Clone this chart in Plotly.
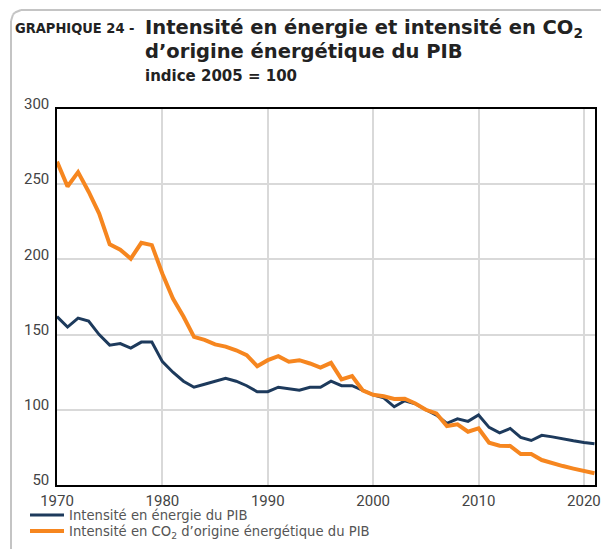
import plotly.graph_objects as go

years = list(range(1970, 2022))
energie = [162, 155, 161, 159, 150, 143, 144, 141, 145, 145,
           132, 125, 119, 115, 117, 119, 121, 119, 116, 112,
           112, 115, 114, 113, 115, 115, 119, 116, 116, 113,
           110, 108, 102, 106, 104, 100, 96.5, 91, 94, 92.3,
           96.5, 88.3, 84.7, 87.6, 81.6, 79.6, 83, 82, 80.5, 79.4,
           78.3, 77.4]
co2 = [265, 248.5, 258, 245, 230.5, 210, 206.5, 200.5, 211, 209.5,
       190.5, 174, 162, 148.5, 146.5, 143.5, 142, 139.6, 136.3, 129,
       133, 135.7, 132, 133, 130.8, 128, 131.2, 120.2, 122.4, 113,
       110, 109, 107.2, 107.4, 104.2, 100, 97.6, 89.2, 90.3, 85.4,
       87.6, 78.1, 76.1, 76, 70.6, 70.6, 66.6, 64.4, 62.6, 60.9,
       59.1, 57.8]

x_ticks = [1970, 1980, 1990, 2000, 2010, 2020]
y_ticks = [50, 100, 150, 200, 250, 300]

name_e = "Intensité en énergie du PIB"
name_c = "Intensité en CO<sub>2</sub> d’origine énergétique du PIB"

W, H = 601, 549
# plot area in page pixels (body margin removed below)
pl, pr, pt, pb = 57, 595, 109, 485


def px(x):
    return (x - pl) / (pr - pl)


def py(y):
    return (pb - y) / (pb - pt)


fig = go.Figure()
fig.add_trace(go.Scatter(x=years, y=energie, mode="lines", name=name_e,
                         line=dict(color="#1d3a5c", width=3), legend="legend",
                         hoverinfo="skip"))
fig.add_trace(go.Scatter(x=years, y=co2, mode="lines", name=name_c,
                         line=dict(color="#f6861f", width=4), legend="legend2",
                         hoverinfo="skip"))

leg_font = dict(family="DejaVu Sans, sans-serif", size=13.2, color="#555555")
tick_font = dict(family="Roboto, sans-serif", size=15, color="#444444")

frame = dict(color="#c4c4c4", width=2)
frame_shapes = [
    dict(type="line", xref="paper", yref="paper",
         x0=px(11), x1=px(11), y0=py(21), y1=py(560), line=frame),
    dict(type="line", xref="paper", yref="paper",
         x0=px(21), x1=px(610), y0=py(10), y1=py(10), line=frame),
    dict(type="line", xref="paper", yref="paper",
         x0=px(11), x1=px(13), y0=py(21), y1=py(14.5), line=frame),
    dict(type="line", xref="paper", yref="paper",
         x0=px(13), x1=px(15), y0=py(14.5), y1=py(12.5), line=frame),
    dict(type="line", xref="paper", yref="paper",
         x0=px(15), x1=px(21), y0=py(12.5), y1=py(10), line=frame),
]

fig.update_layout(
    width=W, height=H,
    margin=dict(l=pl, r=W - pr, t=pt, b=H - pb, autoexpand=False),
    paper_bgcolor="white", plot_bgcolor="white",
    showlegend=True, hovermode=False,
    legend=dict(x=px(25), y=py(500), xanchor="left", yanchor="top",
                font=leg_font, itemwidth=34, bgcolor="rgba(0,0,0,0)"),
    legend2=dict(x=px(25), y=py(516), xanchor="left", yanchor="top",
                 font=leg_font, itemwidth=34, bgcolor="rgba(0,0,0,0)"),
    xaxis=dict(range=[1970, 2021.05], tickvals=x_ticks, showgrid=True,
               gridcolor="#d9d9d9", gridwidth=2, showline=True,
               linecolor="black", linewidth=1.5, mirror=True, ticks="",
               ticklabelstandoff=1, tickfont=tick_font),
    yaxis=dict(range=[50, 300], tickvals=y_ticks, showgrid=True,
               gridcolor="#d9d9d9", gridwidth=2, showline=True,
               linecolor="black", linewidth=1.5, mirror=True, ticks="",
               ticklabelstandoff=3, ticklabelshift=-5, tickfont=tick_font),
    shapes=frame_shapes,
)

title_col = "#222222"
fig.add_annotation(xref="paper", yref="paper", x=px(13), y=py(28),
                   xanchor="left", yanchor="middle", showarrow=False,
                   text="<b>GRAPHIQUE 24 -</b>",
                   font=dict(family="DejaVu Sans Condensed, sans-serif", size=14.5, color=title_col))
fig.add_annotation(xref="paper", yref="paper", x=px(143), y=py(29),
                   xanchor="left", yanchor="middle", showarrow=False,
                   text="<b>Intensité en énergie et intensité en CO<sub>2</sub></b>",
                   font=dict(family="DejaVu Sans, sans-serif", size=19.5, color=title_col))
fig.add_annotation(xref="paper", yref="paper", x=px(143), y=py(52),
                   xanchor="left", yanchor="middle", showarrow=False,
                   text="<b>d’origine énergétique du PIB</b>",
                   font=dict(family="DejaVu Sans, sans-serif", size=19.5, color=title_col))
fig.add_annotation(xref="paper", yref="paper", x=px(143), y=py(76),
                   xanchor="left", yanchor="middle", showarrow=False,
                   text="<b>indice 2005 = 100</b>",
                   font=dict(family="DejaVu Sans, sans-serif", size=15, color=title_col))

fig.write_html(
    "out.html",
    config={"displayModeBar": False},
    post_script="document.body.style.margin='0';document.body.style.overflow='hidden';",
)
